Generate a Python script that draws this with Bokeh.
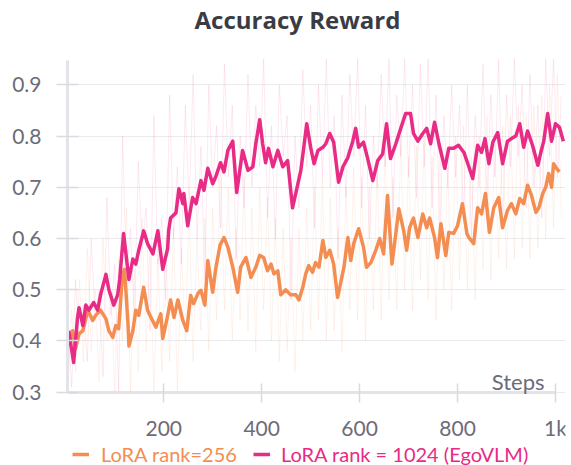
from bokeh.plotting import figure
from bokeh.models import Range1d, FixedTicker, Label, Legend, LegendItem
from bokeh.embed import file_html
from bokeh.resources import INLINE

# ---------------- data ----------------
series_names = ["LoRA rank=256", "LoRA rank = 1024 (EgoVLM)"]

# smoothed curves
steps_1024 = [6, 16, 24, 27, 35, 41, 47, 57, 65, 71, 82, 88, 98, 106, 110, 118, 122, 129, 137, 143,
              149, 159, 167, 178, 188, 198, 208, 210, 214, 225, 231, 239, 241, 249, 259, 266, 276, 282, 290, 300,
              306, 316, 323, 331, 341, 349, 361, 372, 382, 388, 396, 402, 408, 414, 423, 433, 443, 453, 463, 474,
              480, 486, 492, 500, 507, 515, 525, 531, 539, 547, 557, 566, 576, 586, 592, 598, 608, 616, 627, 637,
              647, 655, 663, 674, 684, 694, 704, 710, 719, 729, 737, 745, 753, 762, 774, 782, 792, 802, 813, 821,
              831, 841, 849, 856, 864, 872, 882, 892, 902, 913, 919, 927, 935, 943, 953, 964, 970, 976, 984, 992,
              1000, 1008, 1016]
acc_1024 = [0.42, 0.358, 0.446, 0.465, 0.43, 0.47, 0.46, 0.475, 0.46, 0.49, 0.53, 0.50, 0.47, 0.49, 0.52, 0.61, 0.577, 0.52, 0.56, 0.55,
            0.577, 0.615, 0.59, 0.57, 0.615, 0.54, 0.58, 0.615, 0.64, 0.65, 0.697, 0.668, 0.688, 0.625, 0.68, 0.668, 0.713, 0.694, 0.737, 0.707,
            0.72, 0.748, 0.73, 0.772, 0.79, 0.69, 0.772, 0.733, 0.74, 0.785, 0.832, 0.785, 0.748, 0.776, 0.74, 0.772, 0.74, 0.752, 0.66, 0.707,
            0.733, 0.778, 0.824, 0.778, 0.746, 0.772, 0.778, 0.785, 0.805, 0.788, 0.71, 0.74, 0.758, 0.79, 0.815, 0.778, 0.788, 0.758, 0.713, 0.752,
            0.765, 0.824, 0.756, 0.785, 0.815, 0.844, 0.844, 0.805, 0.79, 0.805, 0.815, 0.785, 0.827, 0.785, 0.737, 0.776, 0.776, 0.782, 0.768, 0.746,
            0.717, 0.782, 0.768, 0.795, 0.746, 0.788, 0.807, 0.746, 0.79, 0.797, 0.80, 0.824, 0.778, 0.81, 0.782, 0.743, 0.768, 0.79, 0.844, 0.79,
            0.824, 0.817, 0.79]

steps_256 = [6, 14, 20, 27, 35, 45, 55, 61, 71, 82, 88, 96, 102, 108, 116, 120, 127, 129, 137, 143,
             149, 159, 167, 174, 184, 194, 198, 206, 214, 221, 229, 239, 247, 255, 261, 270, 276, 284, 290, 300,
             306, 315, 323, 331, 341, 351, 357, 368, 378, 388, 396, 404, 412, 419, 425, 433, 439, 449, 459, 470,
             476, 484, 490, 496, 504, 510, 517, 525, 531, 539, 547, 555, 561, 568, 576, 582, 588, 598, 608, 614,
             623, 633, 641, 649, 657, 666, 674, 680, 690, 696, 702, 710, 719, 729, 737, 743, 753, 759, 766, 776,
             782, 792, 800, 810, 819, 823, 833, 841, 849, 857, 865, 874, 884, 892, 902, 910, 919, 927, 935, 943,
             951, 960, 966, 974, 980, 986, 992, 996, 1002, 1008]
acc_256 = [0.39, 0.42, 0.385, 0.414, 0.42, 0.46, 0.44, 0.45, 0.46, 0.443, 0.42, 0.407, 0.43, 0.424, 0.531, 0.54, 0.434, 0.39, 0.42, 0.46,
           0.45, 0.505, 0.46, 0.446, 0.427, 0.453, 0.405, 0.44, 0.48, 0.446, 0.48, 0.44, 0.42, 0.489, 0.473, 0.493, 0.499, 0.47, 0.557, 0.495,
           0.54, 0.587, 0.602, 0.583, 0.544, 0.495, 0.544, 0.563, 0.524, 0.544, 0.567, 0.563, 0.537, 0.55, 0.531, 0.537, 0.49, 0.50, 0.49, 0.49,
           0.48, 0.505, 0.531, 0.547, 0.534, 0.553, 0.544, 0.596, 0.563, 0.577, 0.55, 0.485, 0.512, 0.544, 0.602, 0.557, 0.59, 0.619, 0.583, 0.544,
           0.553, 0.577, 0.60, 0.57, 0.684, 0.55, 0.61, 0.658, 0.615, 0.577, 0.621, 0.64, 0.602, 0.648, 0.621, 0.64, 0.602, 0.563, 0.629, 0.567,
           0.612, 0.61, 0.625, 0.668, 0.61, 0.602, 0.59, 0.66, 0.648, 0.688, 0.612, 0.66, 0.68, 0.621, 0.655, 0.668, 0.648, 0.678, 0.668, 0.704,
           0.684, 0.651, 0.66, 0.688, 0.70, 0.727, 0.70, 0.746, 0.737, 0.73]

# raw (unsmoothed) values, every 8 steps
raw_steps = list(range(4, 1013, 8))
raw_1024 = [0.44, 0.31, 0.52, 0.40, 0.47, 0.36, 0.60, 0.44, 0.50, 0.33, 0.68, 0.45, 0.55, 0.30, 0.80, 0.52, 0.62, 0.44, 0.75, 0.58,
            0.66, 0.42, 0.84, 0.55, 0.64, 0.48, 0.88, 0.60, 0.74, 0.55, 0.86, 0.66, 0.92, 0.60, 0.78, 0.52, 0.90, 0.70, 0.82, 0.62,
            0.94, 0.72, 0.86, 0.56, 0.80, 0.66, 0.92, 0.70, 0.86, 0.74, 0.95, 0.64, 0.82, 0.60, 0.90, 0.76, 0.84, 0.48, 0.80, 0.66,
            0.93, 0.74, 0.86, 0.62, 0.90, 0.72, 0.95, 0.70, 0.84, 0.56, 0.88, 0.68, 0.92, 0.76, 0.95, 0.66, 0.86, 0.60, 0.80, 0.70,
            0.92, 0.74, 0.95, 0.64, 0.88, 0.76, 0.95, 0.72, 0.90, 0.68, 0.94, 0.74, 0.95, 0.66, 0.88, 0.62, 0.84, 0.70, 0.90, 0.72,
            0.86, 0.64, 0.90, 0.60, 0.84, 0.70, 0.94, 0.68, 0.88, 0.72, 0.95, 0.62, 0.88, 0.74, 0.95, 0.76, 0.90, 0.66, 0.92, 0.70,
            0.86, 0.64, 0.95, 0.76, 0.95, 0.72, 0.88]
raw_256 = [0.30, 0.46, 0.34, 0.52, 0.36, 0.58, 0.38, 0.50, 0.32, 0.60, 0.40, 0.50, 0.30, 0.56, 0.40, 0.66, 0.30, 0.54, 0.34, 0.64,
           0.38, 0.58, 0.30, 0.56, 0.34, 0.60, 0.36, 0.62, 0.30, 0.58, 0.40, 0.66, 0.36, 0.60, 0.42, 0.64, 0.38, 0.66, 0.44, 0.74,
           0.46, 0.70, 0.40, 0.62, 0.44, 0.72, 0.42, 0.66, 0.38, 0.70, 0.46, 0.68, 0.40, 0.64, 0.36, 0.62, 0.38, 0.60, 0.34, 0.62,
           0.40, 0.66, 0.42, 0.70, 0.44, 0.72, 0.40, 0.68, 0.42, 0.62, 0.38, 0.70, 0.46, 0.74, 0.44, 0.72, 0.40, 0.70, 0.46, 0.74,
           0.44, 0.78, 0.48, 0.72, 0.46, 0.80, 0.50, 0.76, 0.46, 0.78, 0.52, 0.80, 0.48, 0.76, 0.44, 0.78, 0.50, 0.74, 0.46, 0.80,
           0.52, 0.82, 0.50, 0.76, 0.48, 0.80, 0.54, 0.84, 0.52, 0.80, 0.56, 0.82, 0.54, 0.84, 0.56, 0.86, 0.58, 0.84, 0.56, 0.86,
           0.58, 0.88, 0.60, 0.90, 0.62, 0.92, 0.64]

x_ticks = [200, 400, 600, 800, 1000]
y_ticks = [0.3, 0.4, 0.5, 0.6, 0.7, 0.8, 0.9]

# ---------------- styles ----------------
ORANGE = "#f48d52"
PINK = "#e82b85"
FONT = "Lato"
LABEL_GRAY = "#6c6c78"

# frame covers the whole figure height so that title, axis and legends can sit inside it
p = figure(width=571, height=465, output_backend="svg", toolbar_location=None,
           x_range=Range1d(3.5, 1020.4), y_range=Range1d(0.1569, 1.0646),
           min_border_left=67, min_border_right=6, min_border_top=0, min_border_bottom=0)
p.outline_line_color = None
p.background_fill_color = "white"
p.border_fill_color = "white"

# raw faint lines
p.line(raw_steps, raw_256, line_color=ORANGE, line_alpha=0.1, line_width=1)
p.line(raw_steps, raw_1024, line_color=PINK, line_alpha=0.1, line_width=1)

r256 = p.line(steps_256, acc_256, line_color=ORANGE, line_width=3.5, line_join="round")
r1024 = p.line(steps_1024, acc_1024, line_color=PINK, line_width=3.5, line_join="round")

# axes
for ax in (p.xaxis[0], p.yaxis[0]):
    ax.axis_line_color = "#e4e4e8"
    ax.axis_line_width = 3
    ax.major_tick_line_color = "#d9d9de"
    ax.major_tick_line_width = 1.5
    ax.minor_tick_line_color = None
    ax.major_label_text_font = FONT
    ax.major_label_text_font_size = "21px"
    ax.major_label_text_color = LABEL_GRAY

p.xaxis.ticker = FixedTicker(ticks=x_ticks)
p.xaxis.major_label_overrides = {1000: "1k"}
p.xaxis.bounds = (3.5, 1000)
p.xaxis.fixed_location = 0.3
p.xaxis.major_tick_in = 9
p.xaxis.major_tick_out = 10
p.xaxis.major_label_standoff = 13

p.yaxis.ticker = FixedTicker(ticks=y_ticks)
p.yaxis.bounds = (0.3, 0.947)
p.yaxis.major_tick_in = 11
p.yaxis.major_tick_out = 11
p.yaxis.major_label_standoff = 15

p.xgrid.visible = False
p.ygrid.ticker = FixedTicker(ticks=y_ticks)
p.ygrid.grid_line_color = "#ebebee"
p.ygrid.grid_line_width = 1

# title and axis label
p.add_layout(Label(x=473, y=1.028, text="Accuracy Reward", text_align="center",
                   text_baseline="middle", text_font="Open Sans", text_font_style="bold",
                   text_font_size="24px", text_color="#3b3b43"))
p.add_layout(Label(x=1000, y=0.3, x_offset=-11, y_offset=11, text="Steps", text_align="right",
                   text_baseline="alphabetic", text_font=FONT, text_font_size="22px",
                   text_color=LABEL_GRAY))

# legends (one per series so each label keeps its colour)
for r, name, col, loc, stand in ((r256, series_names[0], ORANGE, (5, -1), 12),
                                 (r1024, series_names[1], PINK, (186, -1), 11)):
    lg = Legend(items=[LegendItem(label=name, renderers=[r])], location=loc,
                orientation="horizontal", glyph_width=17, glyph_height=20,
                label_standoff=stand, label_text_font=FONT, label_text_font_size="20px",
                label_text_color=col, padding=0, margin=0, spacing=0,
                border_line_alpha=0, background_fill_alpha=0)
    p.add_layout(lg)

open("out.html", "w").write(file_html(p, INLINE))
